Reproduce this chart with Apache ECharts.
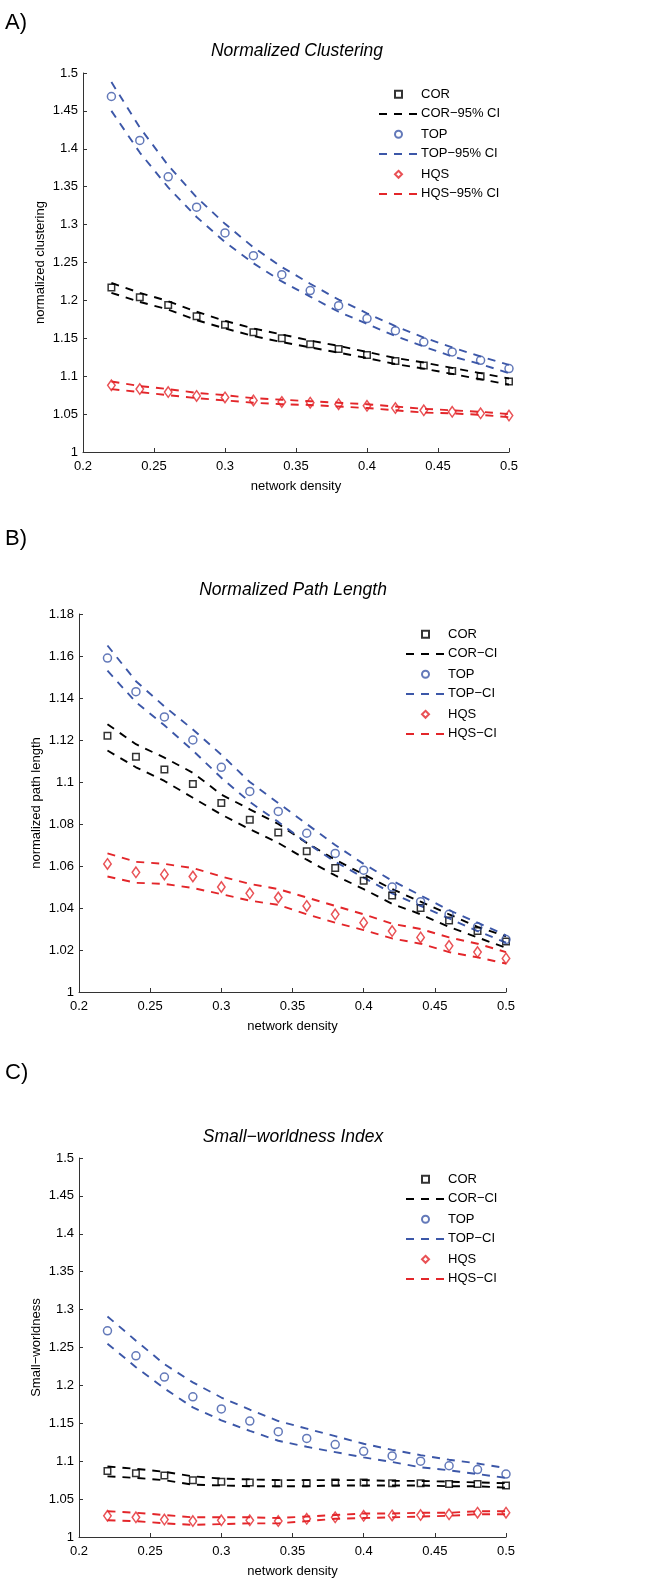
<!DOCTYPE html>
<html><head><meta charset="utf-8">
<script src="https://cdn.jsdelivr.net/npm/echarts@6/dist/echarts.min.js"></script>
<style>html,body{margin:0;padding:0;background:#fff}#c{width:664px;height:1586px}</style>
</head><body><div id="c"></div>
<script>
// ---------- data ----------
const density = [0.22,0.24,0.26,0.28,0.30,0.32,0.34,0.36,0.38,0.40,0.42,0.44,0.46,0.48,0.50];

// Panel A: normalized clustering
const A_COR    = [1.217,1.204,1.194,1.179,1.168,1.158,1.150,1.142,1.136,1.128,1.120,1.114,1.107,1.100,1.093];
const A_COR_hi = [1.223,1.210,1.199,1.185,1.173,1.163,1.155,1.147,1.140,1.132,1.124,1.118,1.111,1.104,1.097];
const A_COR_lo = [1.210,1.198,1.188,1.174,1.163,1.153,1.145,1.138,1.131,1.124,1.116,1.110,1.103,1.096,1.089];
const A_TOP    = [1.469,1.411,1.363,1.323,1.289,1.259,1.234,1.213,1.193,1.176,1.160,1.145,1.132,1.121,1.110];
const A_TOP_hi = [1.488,1.428,1.378,1.336,1.301,1.270,1.244,1.222,1.201,1.183,1.166,1.151,1.138,1.126,1.115];
const A_TOP_lo = [1.450,1.395,1.349,1.310,1.277,1.249,1.225,1.205,1.185,1.169,1.153,1.139,1.126,1.116,1.104];
const A_HQS    = [1.088,1.083,1.079,1.074,1.072,1.068,1.066,1.065,1.063,1.061,1.058,1.055,1.053,1.051,1.048];
const A_HQS_hi = [1.093,1.087,1.083,1.078,1.075,1.071,1.069,1.067,1.065,1.063,1.060,1.057,1.055,1.053,1.050];
const A_HQS_lo = [1.083,1.079,1.075,1.071,1.068,1.065,1.063,1.062,1.060,1.058,1.055,1.052,1.051,1.049,1.046];

// Panel B: normalized path length
const B_COR    = [1.122,1.112,1.106,1.099,1.090,1.082,1.076,1.067,1.059,1.053,1.046,1.040,1.034,1.029,1.024];
const B_COR_hi = [1.1275,1.118,1.1116,1.1044,1.094,1.087,1.080,1.071,1.063,1.056,1.049,1.043,1.037,1.031,1.0265];
const B_COR_lo = [1.115,1.107,1.1005,1.0925,1.0845,1.0775,1.071,1.063,1.0555,1.049,1.042,1.037,1.031,1.026,1.021];
const B_TOP    = [1.159,1.143,1.131,1.120,1.107,1.0955,1.086,1.0756,1.066,1.058,1.050,1.043,1.037,1.031,1.025];
const B_TOP_hi = [1.165,1.148,1.136,1.125,1.113,1.100,1.090,1.080,1.070,1.061,1.053,1.046,1.039,1.033,1.027];
const B_TOP_lo = [1.153,1.138,1.127,1.115,1.102,1.0905,1.081,1.071,1.062,1.0545,1.047,1.041,1.035,1.029,1.0235];
const B_HQS    = [1.061,1.057,1.056,1.055,1.050,1.047,1.045,1.041,1.037,1.033,1.029,1.026,1.022,1.019,1.016];
const B_HQS_hi = [1.066,1.062,1.061,1.059,1.055,1.0515,1.049,1.045,1.041,1.037,1.0325,1.030,1.026,1.023,1.019];
const B_HQS_lo = [1.055,1.052,1.0515,1.0495,1.0466,1.0435,1.0415,1.037,1.033,1.0295,1.0255,1.023,1.019,1.0165,1.0135];

// Panel C: small-worldness
const C_COR    = [1.087,1.084,1.081,1.075,1.073,1.072,1.071,1.071,1.072,1.072,1.071,1.071,1.070,1.070,1.068];
const C_COR_hi = [1.093,1.090,1.086,1.080,1.077,1.076,1.075,1.075,1.075,1.075,1.074,1.074,1.073,1.072,1.071];
const C_COR_lo = [1.080,1.078,1.075,1.069,1.068,1.067,1.067,1.067,1.068,1.068,1.068,1.068,1.067,1.067,1.065];
const C_TOP    = [1.272,1.239,1.211,1.185,1.169,1.153,1.139,1.130,1.122,1.113,1.107,1.100,1.094,1.089,1.083];
const C_TOP_hi = [1.291,1.259,1.228,1.204,1.184,1.168,1.153,1.143,1.133,1.123,1.115,1.108,1.102,1.097,1.091];
const C_TOP_lo = [1.255,1.224,1.196,1.171,1.154,1.140,1.127,1.119,1.112,1.105,1.099,1.092,1.088,1.083,1.078];
const C_HQS    = [1.028,1.026,1.023,1.021,1.022,1.022,1.021,1.024,1.026,1.028,1.0285,1.029,1.030,1.032,1.032];
const C_HQS_hi = [1.034,1.032,1.029,1.026,1.026,1.026,1.025,1.027,1.029,1.031,1.031,1.032,1.032,1.034,1.034];
const C_HQS_lo = [1.022,1.021,1.018,1.016,1.017,1.018,1.018,1.021,1.024,1.025,1.026,1.027,1.028,1.030,1.030];

// tick settings
const xTicks = {min:0.2, max:0.5, interval:0.05};
const yTicksA = {min:1, max:1.5, interval:0.05};
const yTicksB = {min:1, max:1.18, interval:0.02};
const yTicksC = {min:1, max:1.5, interval:0.05};

// ---------- styling / layout ----------
const FONT = '"Liberation Sans", Arial, Helvetica, sans-serif';
const BLACK = '#000000', BLUE = '#3c57a8', RED = '#e3262a';
const AXIS = '#333333';

const panels = [
  {grid:{left:83, top:73, width:426, height:379}, y:yTicksA, yName:'normalized clustering',
   title:'Normalized Clustering', titleX:297, titleY:51, tag:'A)', tagY:25, suffix:'\u221295% CI',
   legX:378, legY:93,
   cor:[A_COR,A_COR_hi,A_COR_lo], top:[A_TOP,A_TOP_hi,A_TOP_lo], hqs:[A_HQS,A_HQS_hi,A_HQS_lo]},
  {grid:{left:79, top:614, width:427, height:378}, y:yTicksB, yName:'normalized path length',
   title:'Normalized Path Length', titleX:293, titleY:590, tag:'B)', tagY:541, suffix:'\u2212CI',
   legX:405, legY:633,
   cor:[B_COR,B_COR_hi,B_COR_lo], top:[B_TOP,B_TOP_hi,B_TOP_lo], hqs:[B_HQS,B_HQS_hi,B_HQS_lo]},
  {grid:{left:79, top:1158, width:427, height:379}, y:yTicksC, yName:'Small\u2212worldness',
   title:'Small\u2212worldness Index', titleX:293, titleY:1137, tag:'C)', tagY:1075, suffix:'\u2212CI',
   legX:405, legY:1178,
   cor:[C_COR,C_COR_hi,C_COR_lo], top:[C_TOP,C_TOP_hi,C_TOP_lo], hqs:[C_HQS,C_HQS_hi,C_HQS_lo]}
];

function pts(ys){ return density.map((x,i)=>[x, ys[i]]); }

const grid = [], xAxis = [], yAxis = [], series = [], legend = [], graphic = [];
const groups = [
  {key:'cor', name:'COR', color:BLACK, symbol:'rect', size:6.5},
  {key:'top', name:'TOP', color:BLUE, symbol:'circle', size:8},
  {key:'hqs', name:'HQS', color:RED, symbol:'diamond', size:[7.5,10.5]}
];

panels.forEach((p,k)=>{
  grid.push(p.grid);
  xAxis.push({type:'value', gridIndex:k, min:xTicks.min, max:xTicks.max, interval:xTicks.interval,
    name:'network density', nameLocation:'middle', nameGap:28, nameMoveOverlap:false,
    nameTextStyle:{fontSize:13, color:'#000', fontFamily:FONT},
    axisLine:{onZero:false, lineStyle:{color:AXIS, width:1}},
    axisTick:{inside:true, length:4, lineStyle:{color:AXIS}},
    axisLabel:{fontSize:13, color:'#000', margin:8, fontFamily:FONT},
    splitLine:{show:false}});
  yAxis.push({type:'value', gridIndex:k, min:p.y.min, max:p.y.max, interval:p.y.interval,
    name:p.yName, nameLocation:'middle', nameGap:36, nameMoveOverlap:false,
    nameTextStyle:{fontSize:13, color:'#000', fontFamily:FONT},
    axisLine:{show:true, onZero:false, lineStyle:{color:AXIS, width:1}},
    axisTick:{show:true, inside:true, length:4, lineStyle:{color:AXIS}},
    axisLabel:{fontSize:13, color:'#000', margin:5, fontFamily:FONT},
    splitLine:{show:false}});
  const markerNames = [], lineNames = [];
  groups.forEach(g=>{
    const d = p[g.key];
    const ciName = g.name + p.suffix;
    [1,2].forEach(j=>{
      series.push({type:'line', name:ciName, xAxisIndex:k, yAxisIndex:k, data:pts(d[j]),
        symbol:'none', silent:true, z:2,
        lineStyle:{color:g.color, width:1.9, type:[8,7]}, itemStyle:{color:g.color}});
    });
    series.push({type:'scatter', name:g.name, xAxisIndex:k, yAxisIndex:k, data:pts(d[0]),
      symbol:g.symbol, symbolSize:g.size, symbolKeepAspect:true, silent:true, z:3,
      itemStyle:{color:'rgba(255,255,255,0)', borderColor:g.color, borderWidth:1.5}});
    markerNames.push(g.name); lineNames.push(ciName);
  });
  // marker legend: small icon centred where the dashed sample is centred
  legend.push({orient:'vertical', left:p.legX + 16, top:p.legY - 5.2, padding:0,
    itemWidth:7, itemHeight:7, itemGap:27, data:markerNames, selectedMode:false,
    symbolKeepAspect:true,
    textStyle:{fontSize:13, color:'#000', fontFamily:FONT, padding:[0,0,0,14]}});
  legend.push({orient:'vertical', left:p.legX, top:p.legY + 20 - 5.6, padding:0,
    itemWidth:39, itemHeight:14, itemGap:27, data:lineNames, selectedMode:false,
    itemStyle:{opacity:0, color:'rgba(0,0,0,0)', borderWidth:0},
    textStyle:{fontSize:13, color:'#000', fontFamily:FONT, padding:[0,0,0,-2]}});
  graphic.push({type:'text', left:5, top:p.tagY - 13,
    style:{text:p.tag, fontSize:22, fontFamily:FONT, fill:'#000'}});
  graphic.push({type:'text', x:p.titleX, y:p.titleY,
    style:{text:p.title, fontSize:17.5, fontStyle:'italic', fontFamily:FONT, fill:'#000',
      align:'center', verticalAlign:'middle', textAlign:'center', textVerticalAlign:'middle'}});
});

const chart = echarts.init(document.getElementById('c'), null, {renderer:'canvas'});
chart.setOption({animation:false, backgroundColor:'#fff', grid, xAxis, yAxis, series, legend, graphic});
</script></body></html>
